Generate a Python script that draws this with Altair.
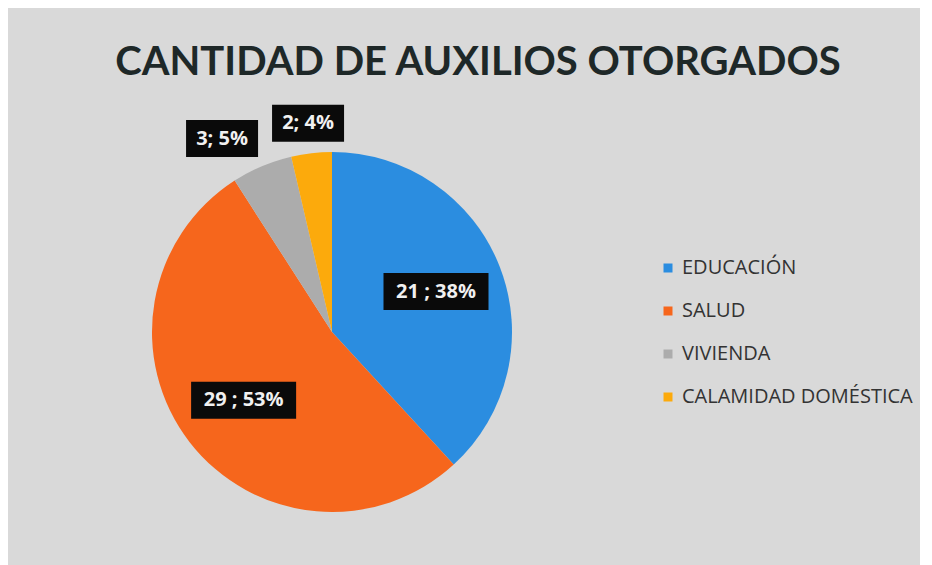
import altair as alt
import pandas as pd
import numpy as np

# ---- data ----
categories = ["EDUCACIÓN", "SALUD", "VIVIENDA", "CALAMIDAD DOMÉSTICA"]
values = [21, 29, 3, 2]
labels = ["21 ; 38%", "29 ; 53%", "3; 5%", "2; 4%"]
colors = ["#2b8de0", "#f6661c", "#acacac", "#fcaa0c"]

# ---- layout constants ----
W, H = 912, 557          # whole chart (plot area == canvas, padding 0)
CX, CY, R = 324, 324, 180  # pie centre and radius
BOX_H = 37
GAP = 14

df = pd.DataFrame({"cat": categories, "value": values, "label": labels,
                   "idx": list(range(len(categories)))})
total = df["value"].sum()
frac = df["value"] / total
mid = (df["value"].cumsum() - df["value"] / 2) / total * 2 * np.pi
inside = (frac > 0.1).to_numpy()
r = np.where(inside, 0.62 * R, R + 30)
lx = (CX + r * np.sin(mid)).to_numpy(dtype=float)
ly = (CY - r * np.cos(mid)).to_numpy(dtype=float)
bw = (df["label"].str.len() * 11 + 17).to_numpy(dtype=float)

# simple overlap avoidance for outside labels (like Excel best fit)
placed = []
for i in reversed(range(len(df))):
    if inside[i]:
        continue
    for (px0, px1, py0, py1) in placed:
        x0, x1 = lx[i] - bw[i] / 2, lx[i] + bw[i] / 2
        y0, y1 = ly[i] - BOX_H / 2, ly[i] + BOX_H / 2
        if x0 < px1 and x1 > px0 and y0 < py1 and y1 > py0:
            if lx[i] < CX:
                lx[i] = px0 - GAP - bw[i] / 2
            else:
                lx[i] = px1 + GAP + bw[i] / 2
    placed.append((lx[i] - bw[i] / 2, lx[i] + bw[i] / 2,
                   ly[i] - BOX_H / 2, ly[i] + BOX_H / 2))

df["lx"] = lx
df["ly"] = ly
df["x0"] = lx - bw / 2
df["x1"] = lx + bw / 2
df["y0"] = ly - BOX_H / 2
df["y1"] = ly + BOX_H / 2

xs = alt.Scale(domain=[0, W], range=[0, W])
ys = alt.Scale(domain=[0, H], range=[0, H])

pie = alt.Chart(df).mark_arc(outerRadius=R).encode(
    theta=alt.Theta("value:Q", stack=True),
    color=alt.Color(
        "cat:N",
        scale=alt.Scale(domain=categories, range=colors),
        sort=categories,
        legend=alt.Legend(
            title=None, orient="none", legendX=650, legendY=250,
            symbolType="square", symbolSize=81, symbolStrokeWidth=0,
            labelFont="Open Sans", labelFontSize=20, labelColor="#333333",
            rowPadding=23, labelOffset=4, padding=0, labelLimit=400,
        ),
    ),
    order=alt.Order("idx:Q"),
    x=alt.value(CX),
    y=alt.value(CY),
)

boxes = alt.Chart(df).mark_rect(color="#0a0a0a").encode(
    x=alt.X("x0:Q", scale=xs, axis=None),
    x2="x1:Q",
    y=alt.Y("y0:Q", scale=ys, axis=None),
    y2="y1:Q",
)

text = alt.Chart(df).mark_text(
    font="Open Sans", fontSize=20, fontWeight="bold", color="#f0f0f0"
).encode(
    x=alt.X("lx:Q", scale=xs, axis=None),
    y=alt.Y("ly:Q", scale=ys, axis=None),
    text="label:N",
)

chart = alt.layer(pie, boxes, text).properties(
    width=W, height=H,
    title=alt.TitleParams(
        "CANTIDAD DE AUXILIOS OTORGADOS",
        font="Lato", fontSize=40, fontWeight="bold", color="#1e2828",
        anchor="middle", orient="top", offset=0, baseline="alphabetic",
        dx=14, dy=107,
    ),
    background="#d9d9d9",
    padding=0,
    autosize=alt.AutoSizeParams(type="none"),
).configure_view(stroke=None)

chart.save("out.html", embed_options={"renderer": "svg", "actions": False})
